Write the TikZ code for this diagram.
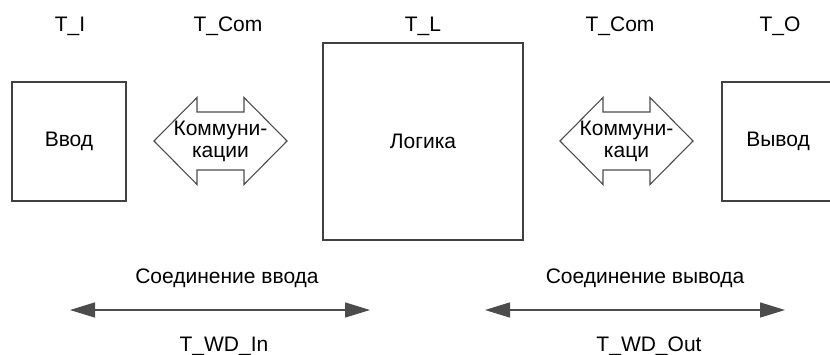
\documentclass[tikz,border=0pt]{standalone}
\usepackage{fontspec}
\setmainfont{Liberation Sans}
\usetikzlibrary{arrows.meta}

\tikzset{
  block/.style={draw=black!75, line width=1.2pt, inner sep=0pt},
  comm/.style={draw=black!70, line width=1.1pt, line join=miter},
  tlabel/.style={anchor=base, inner sep=0pt},
  wdline/.style={draw=black!70, line width=1.5pt,
    {Triangle[length=25pt,width=15pt]}-{Triangle[length=25pt,width=15pt]}}
}

\begin{document}
\begin{tikzpicture}[x=1pt,y=-1pt,font=\fontsize{21}{22}\selectfont]
  \useasboundingbox (0,0) rectangle (830,355);

  % time labels
  \node[tlabel] (ti) at (70,32) {T\_I};
  \node[tlabel] (tcomi) at (228,32) {T\_Com};
  \node[tlabel] (tl) at (423,32) {T\_L};
  \node[tlabel] (tcomo) at (620,32) {T\_Com};
  \node[tlabel] (to) at (780,32) {T\_O};

  % blocks
  \node[block, minimum width=114pt, minimum height=119pt] (inp) at (69,141.5) {Ввод};
  \node[block, minimum width=200pt, minimum height=197pt] (logic) at (423,141.5) {Логика};
  \node[block, minimum width=112pt, minimum height=119pt] (outp) at (778,141.5) {Вывод};

  % communication arrows
  \node[align=center, inner sep=0pt] (comL) at (220.5,141) {Коммуни-\\кации};
  \node[align=center, inner sep=0pt] (comR) at (626.5,141) {Коммуни-\\каци};
  \foreach \n in {comL,comR}
    \draw[comm, shift={(\n)}] (-66.5,0) -- (-23.5,-43.5) -- (-23.5,-29) -- (23.5,-29)
      -- (23.5,-43.5) -- (66.5,0) -- (23.5,43.5) -- (23.5,29) -- (-23.5,29)
      -- (-23.5,43.5) -- cycle;

  % watchdog spans
  \coordinate (wdiA) at (70,310);
  \coordinate (wdiB) at (370,310);
  \coordinate (wdoA) at (485,310);
  \coordinate (wdoB) at (785,310);
  \draw[wdline] (wdiA) -- (wdiB);
  \draw[wdline] (wdoA) -- (wdoB);
  \node[tlabel] (coni) at (227,284) {Соединение ввода};
  \node[tlabel] (wdi) at (224,352) {T\_WD\_In};
  \node[tlabel] (cono) at (645,284) {Соединение вывода};
  \node[tlabel] (wdo) at (649,352) {T\_WD\_Out};
\end{tikzpicture}
\end{document}
